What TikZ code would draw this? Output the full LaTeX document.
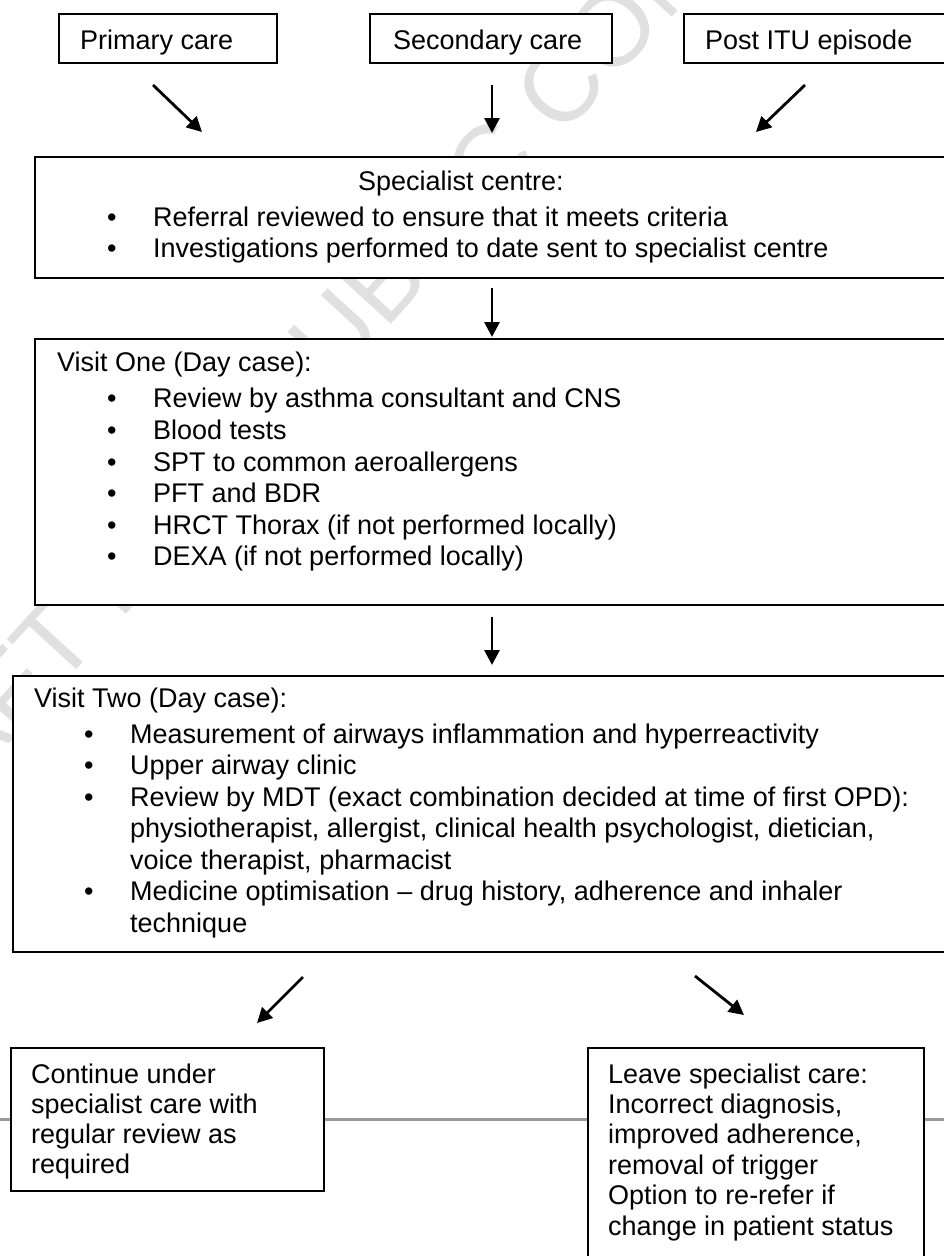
\documentclass[tikz,border=0pt]{standalone}
\usepackage{fontspec}
\setmainfont{Liberation Sans}
\usetikzlibrary{arrows.meta}
\definecolor{wmcol}{gray}{0.88}
\definecolor{rulecol}{gray}{0.6}
\newcommand\fsz{\fontsize{27}{31.6}\selectfont}
\newcommand\bl{\makebox[46pt][l]{\textbullet}}
\tikzset{
  box/.style={draw=black, line width=2pt, fill=white, inner sep=0pt, anchor=north west},
  arr/.style={line width=2.8pt, -{Triangle[length=15pt,width=15pt]}},
  txt/.style={inner sep=0pt, anchor=base west, font=\fsz},
}
\begin{document}
\begin{tikzpicture}[x=1pt,y=-1pt]
\useasboundingbox (0,0) rectangle (944,1256);
\clip (0,0) rectangle (944,1256);
\fill[white] (0,0) rectangle (944,1256);
% watermark
\node[inner sep=0pt, text=wmcol, rotate=47.6, font=\fontsize{104}{104}\selectfont] (wmark) at (455,202) {DRAFT FOR PUBLIC CONSULTATION};
% footer rule
\draw[rulecol, line width=3pt] (0,1119) -- (944,1119);
% top boxes
\node[box, minimum width=218pt, minimum height=49pt] (prim) at (58,13) {};
\node[box, minimum width=242pt, minimum height=49pt] (sec) at (369,13) {};
\node[box, minimum width=267pt, minimum height=49pt] (post) at (683,13) {};
\node[txt] (primT) at (80,49) {Primary care};
\node[txt] (secT) at (393,49) {Secondary care};
\node[txt] (postT) at (705,49) {Post ITU episode};
% specialist centre
\node[box, minimum width=916pt, minimum height=121pt] (spec) at (34,156) {};
\node[txt] (specT) at (107,190) {\parbox[t]{800pt}{\fsz
  \hspace*{251pt}Specialist centre:\\[4.5pt]
  \bl Referral reviewed to ensure that it meets criteria\\
  \bl Investigations performed to date sent to specialist centre}};
% visit one
\node[box, minimum width=916pt, minimum height=266pt] (v1) at (34,338) {};
\node[txt] (v1T) at (57,371) {\parbox[t]{850pt}{\fsz
  Visit One (Day case):\\[5.2pt]
  \hspace*{50pt}\bl Review by asthma consultant and CNS\\
  \hspace*{50pt}\bl Blood tests\\
  \hspace*{50pt}\bl SPT to common aeroallergens\\
  \hspace*{50pt}\bl PFT and BDR\\
  \hspace*{50pt}\bl HRCT Thorax (if not performed locally)\\
  \hspace*{50pt}\bl DEXA (if not performed locally)}};
% visit two
\node[box, minimum width=938pt, minimum height=276pt] (v2) at (12,675) {};
\node[txt] (v2T) at (34,707) {\parbox[t]{900pt}{\fontsize{27}{31.5}\selectfont
  Visit Two (Day case):\\[4.5pt]
  \hspace*{50pt}\bl Measurement of airways inflammation and hyperreactivity\\
  \hspace*{50pt}\bl Upper airway clinic\\
  \hspace*{50pt}\bl Review by MDT (exact combination decided at time of first OPD):\\
  \hspace*{96pt}physiotherapist, allergist, clinical health psychologist, dietician,\\
  \hspace*{96pt}voice therapist, pharmacist\\
  \hspace*{50pt}\bl Medicine optimisation – drug history, adherence and inhaler\\
  \hspace*{96pt}technique}};
% bottom boxes
\node[box, minimum width=313pt, minimum height=143pt] (cont) at (10,1047) {};
\node[txt] (contT) at (31,1083) {\parbox[t]{290pt}{\fontsize{27}{30.3}\selectfont
  Continue under\\
  specialist care with\\
  regular review as\\
  required}};
\node[box, minimum width=336pt, minimum height=215pt] (leave) at (587,1047) {};
\node[txt] (leaveT) at (608,1083) {\parbox[t]{320pt}{\fontsize{27}{30.4}\selectfont
  Leave specialist care:\\
  Incorrect diagnosis,\\
  improved adherence,\\
  removal of trigger\\
  Option to re-refer if\\
  change in patient status}};
% arrow end points
\coordinate (a1s) at (153,85);  \coordinate (a1e) at (202,132);
\coordinate (a2s) at (492,85);  \coordinate (a2e) at (492,133);
\coordinate (a3s) at (805,85);  \coordinate (a3e) at (756,132);
\coordinate (a4s) at (492,288); \coordinate (a4e) at (492,337);
\coordinate (a5s) at (492,617); \coordinate (a5e) at (492,665);
\coordinate (a6s) at (303,977); \coordinate (a6e) at (257,1023);
\coordinate (a7s) at (695,976); \coordinate (a7e) at (744,1015);
\draw[arr] (a1s) -- (a1e);
\draw[arr] (a2s) -- (a2e);
\draw[arr] (a3s) -- (a3e);
\draw[arr] (a4s) -- (a4e);
\draw[arr] (a5s) -- (a5e);
\draw[arr] (a6s) -- (a6e);
\draw[arr] (a7s) -- (a7e);
\end{tikzpicture}
\end{document}
